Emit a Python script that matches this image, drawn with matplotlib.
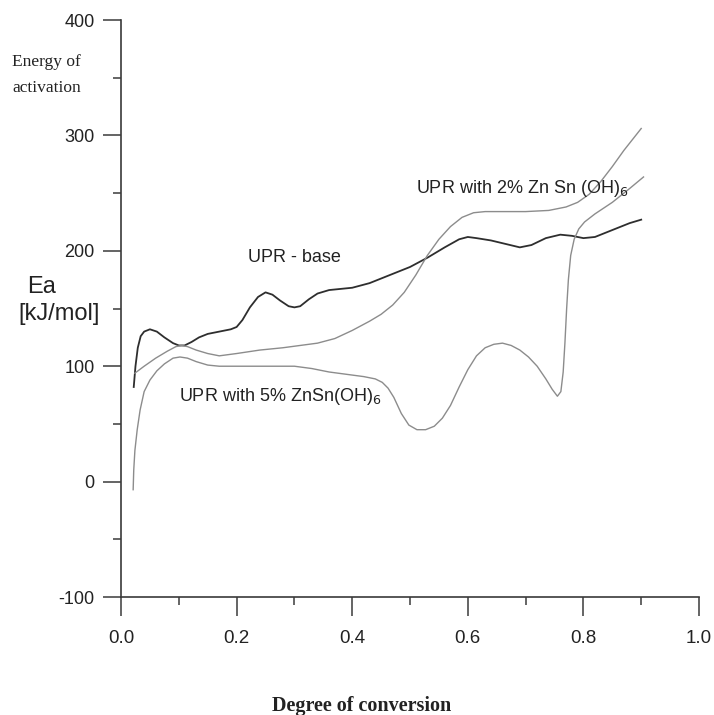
import matplotlib
matplotlib.use("Agg")
import matplotlib.pyplot as plt
from matplotlib.ticker import MultipleLocator

# values
base_x = [0.022, 0.025, 0.029, 0.034, 0.040, 0.050, 0.062, 0.075, 0.090, 0.100,
          0.110, 0.122, 0.135, 0.150, 0.170, 0.190, 0.200, 0.210, 0.223, 0.237,
          0.250, 0.262, 0.275, 0.290, 0.300, 0.310, 0.325, 0.340, 0.360, 0.380,
          0.400, 0.430, 0.460, 0.500, 0.530, 0.560, 0.585, 0.600, 0.615, 0.640,
          0.665, 0.690, 0.710, 0.735, 0.760, 0.780, 0.800, 0.820, 0.850, 0.880,
          0.900]
base_y = [82, 100, 116, 126, 130, 132, 130, 125, 120, 118,
          118, 121, 125, 128, 130, 132, 134, 140, 151, 160,
          164, 162, 157, 152, 151, 152, 158, 163, 166, 167,
          168, 172, 178, 186, 194, 203, 210, 212, 211, 209,
          206, 203, 205, 211, 214, 213, 211, 212, 218, 224,
          227]

zn2_x = [0.024, 0.040, 0.060, 0.080, 0.095, 0.105, 0.115, 0.130, 0.150, 0.170,
         0.200, 0.240, 0.280, 0.310, 0.340, 0.370, 0.400, 0.430, 0.450, 0.470,
         0.490, 0.510, 0.530, 0.550, 0.570, 0.590, 0.610, 0.630, 0.660, 0.700,
         0.740, 0.770, 0.790, 0.810, 0.830, 0.850, 0.870, 0.900]
zn2_y = [94, 100, 107, 113, 117, 118, 117, 114, 111, 109,
         111, 114, 116, 118, 120, 124, 131, 139, 145, 153,
         164, 179, 196, 210, 221, 229, 233, 234, 234, 234,
         235, 238, 242, 249, 260, 273, 287, 306]

zn5_x = [0.021, 0.022, 0.024, 0.028, 0.033, 0.040, 0.050, 0.062, 0.075, 0.090,
         0.102, 0.115, 0.130, 0.150, 0.170, 0.200, 0.250, 0.300, 0.330, 0.360,
         0.390, 0.420, 0.440, 0.452, 0.462, 0.472, 0.485, 0.498, 0.512, 0.527,
         0.542, 0.556, 0.570, 0.585, 0.600, 0.615, 0.630, 0.645, 0.660, 0.675,
         0.690, 0.705, 0.720, 0.735, 0.746, 0.755, 0.761, 0.765, 0.768, 0.771,
         0.774, 0.778, 0.784, 0.792, 0.802, 0.820, 0.850, 0.880, 0.904]
zn5_y = [-7, 10, 27, 45, 62, 78, 88, 96, 102, 107,
         108, 107, 104, 101, 100, 100, 100, 100, 98, 95,
         93, 91, 89, 86, 81, 73, 59, 49, 45, 45,
         48, 55, 66, 82, 97, 109, 116, 119, 120, 118,
         114, 108, 100, 89, 80, 74, 78, 95, 120, 150,
         175, 196, 210, 219, 225, 232, 242, 254, 264]

x_ticks = [0.0, 0.2, 0.4, 0.6, 0.8, 1.0]
x_labels = ["0.0", "0.2", "0.4", "0.6", "0.8", "1.0"]
y_ticks = [-100, 0, 100, 200, 300, 400]
y_labels = ["-100", "0", "100", "200", "300", "400"]

sans = ["Liberation Sans", "DejaVu Sans"]
serif = ["Liberation Serif", "DejaVu Serif"]
axis_col = "#3a3a3a"

fig = plt.figure(figsize=(7.14, 7.15), dpi=100)
ax = fig.add_axes([0.1695, 0.165, 0.8095, 0.807])

ax.plot(base_x, base_y, color="#2e2e2e", lw=1.3)
ax.plot(zn2_x, zn2_y, color="#8c8c8c", lw=1.0)
ax.plot(zn5_x, zn5_y, color="#8c8c8c", lw=1.0)

ax.set_xlim(0, 1.0)
ax.set_ylim(-100, 400)
for s in ("top", "right"):
    ax.spines[s].set_visible(False)
for s in ("left", "bottom"):
    ax.spines[s].set_color(axis_col)
    ax.spines[s].set_linewidth(1.2)

ax.set_xticks(x_ticks)
ax.set_xticklabels(x_labels, family=sans, fontsize=13.5)
ax.set_yticks(y_ticks)
ax.set_yticklabels(y_labels, family=sans, fontsize=13)
ax.xaxis.set_minor_locator(MultipleLocator(0.1))
ax.yaxis.set_minor_locator(MultipleLocator(50))
ax.tick_params(axis="x", which="major", direction="out", length=14, width=1.1,
               pad=10, color=axis_col, labelcolor="#222222")
ax.tick_params(axis="x", which="minor", direction="out", length=6, width=1.1,
               color=axis_col)
ax.tick_params(axis="y", which="major", direction="out", length=13, width=1.1,
               pad=6, color=axis_col, labelcolor="#222222")
ax.tick_params(axis="y", which="minor", direction="out", length=6, width=1.1,
               color=axis_col)

# curve labels
ax.text(0.22, 194, "UPR - base", family=sans, fontsize=13, color="#222222",
        va="center", ha="left")
ax.text(0.51, 254, "UPR with 2% Zn Sn (OH)$_6$", family=sans, fontsize=13,
        color="#222222", va="center", ha="left")
ax.text(0.10, 74, "UPR with 5% ZnSn(OH)$_6$", family=sans, fontsize=13,
        color="#222222", va="center", ha="left")

# axis titles
fig.text(12 / 714, 1 - 62 / 715, "Energy of", family=serif, fontsize=12.5,
         color="#222222", va="center", ha="left")
fig.text(12 / 714, 1 - 88 / 715, "activation", family=serif, fontsize=12.5,
         color="#222222", va="center", ha="left")
fig.text(27 / 714, 1 - 287 / 715, "Ea", family=sans, fontsize=17,
         color="#222222", va="center", ha="left")
fig.text(18 / 714, 1 - 314 / 715, "[kJ/mol]", family=sans, fontsize=17,
         color="#222222", va="center", ha="left")
fig.text(362 / 714, 1 - 706 / 715, "Degree of conversion", family=serif,
         fontsize=14.5, fontweight="bold", color="#222222", va="center",
         ha="center")

fig.savefig("out.png", dpi=100)
